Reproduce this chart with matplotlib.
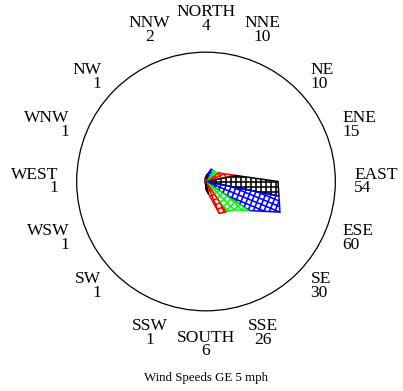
import numpy as np
import matplotlib.pyplot as plt
from matplotlib.patches import Polygon, Circle
from matplotlib.collections import LineCollection

# =====================================================
# DATA
# =====================================================

directions = ["NORTH", "NNE", "NE", "ENE", "EAST", "ESE", "SE", "SSE",
              "SOUTH", "SSW", "SW", "WSW", "WEST", "WNW", "NW", "NNW"]
counts = [4, 10, 10, 15, 54, 60, 30, 26, 6, 1, 1, 1, 1, 1, 1, 2]
petal_colors = ["black", "blue", "#00ff00", "red"]
title = "Wind Speeds GE 5 mph"

# =====================================================
# LAYOUT
# =====================================================

W, H = 403, 391
px = 4.0 / 3.0          # pixels per count
cx, cy = 206, 181.5     # centre of the rose (pixels from top-left)
ring_r = 97.0           # outer ring radius, in counts
label_r = 111.0
hatch_step = 3.75
half = np.radians(11.25)

plt.rcParams["font.family"] = ["Liberation Serif", "DejaVu Serif"]

fig = plt.figure(figsize=(W / 100, H / 100), dpi=100)
ax = fig.add_axes([0, 0, 1, 1])
ax.set_xlim(-cx / px, (W - cx) / px)
ax.set_ylim(-(H - cy) / px, cy / px)
ax.axis("off")


def ray_hit(phi, a, b):
    # point where the ray at angle phi meets the line a-b
    d = np.array([np.cos(phi), np.sin(phi)])
    m = np.column_stack([d, a - b])
    t, s = np.linalg.solve(m, a)
    return t * d


# =====================================================
# PETALS
# =====================================================

n = len(directions)
theta = np.radians(90 - 22.5 * np.arange(n))
r = np.array(counts, dtype=float)
pts = np.column_stack([r * np.cos(theta), r * np.sin(theta)])

for i in range(n):
    prev_p = pts[(i - 1) % n]
    next_p = pts[(i + 1) % n]
    verts = [
        [0.0, 0.0],
        ray_hit(theta[i] + half, prev_p, pts[i]),
        pts[i],
        ray_hit(theta[i] - half, pts[i], next_p),
    ]
    color = petal_colors[i % len(petal_colors)]

    patch = Polygon(verts, closed=True, fill=False,
                    edgecolor=color, lw=1.1, joinstyle="miter")
    ax.add_patch(patch)

    # crosshatch aligned with the petal direction
    u = np.array([np.cos(theta[i]), np.sin(theta[i])])
    v = np.array([-np.sin(theta[i]), np.cos(theta[i])])
    reach = r[i] + 5
    k_max = int(reach / hatch_step) + 1
    segs = []
    for k in range(-k_max, k_max + 1):
        off = k * hatch_step
        segs.append([off * v - reach * u, off * v + reach * u])
        segs.append([off * u - reach * v, off * u + reach * v])
    lc = LineCollection(segs, colors=color, linewidths=1.15)
    ax.add_collection(lc)
    lc.set_clip_path(patch)

# =====================================================
# RING AND LABELS
# =====================================================

ax.add_patch(Circle((0, 0), ring_r, fill=False, edgecolor="black", lw=0.9))

for i, (name, c) in enumerate(zip(directions, counts)):
    x = label_r * np.cos(theta[i])
    y = label_r * np.sin(theta[i])
    if i in (15, 0, 1):
        ha, va = "center", "bottom"
    elif i in (7, 8, 9):
        ha, va = "center", "top"
    elif 2 <= i <= 6:
        ha, va = "left", "center"
    else:
        ha, va = "right", "center"
    ax.text(x, y, f"{name}\n{c}", ha=ha, va=va, multialignment=ha,
            fontsize=12.5, linespacing=0.82)

fig.text(cx / W, 1 - 378 / H, title, ha="center", va="center", fontsize=9.3)

fig.savefig("out.png", dpi=100)
